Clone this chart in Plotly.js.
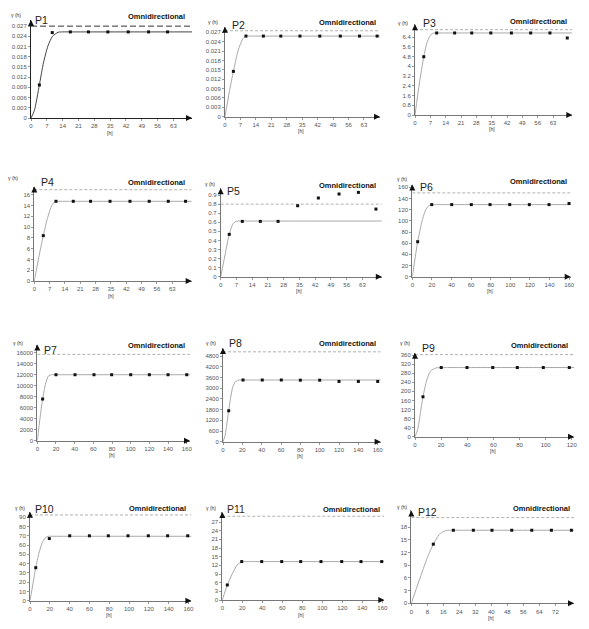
<!DOCTYPE html>
<html>
<head>
<meta charset="utf-8">
<script src="https://cdn.plot.ly/plotly-3.0.1.min.js"></script>
<style>
  html, body { margin: 0; padding: 0; background: #fff; }
  #chart { width: 589px; height: 629px; }
</style>
</head>
<body>
<div id="chart"></div>
<script>
var p1Lags = [3.7, 9.4, 17.4, 25.4, 34, 43, 52, 60.4];
var p1Gamma = [0.0097, 0.0251, 0.0253, 0.0253, 0.0253, 0.0253, 0.0253, 0.0253];
var p1ModelH = [0, 1.5, 3.7, 5.5, 7.5, 9.5, 12, 14, 18, 30, 50, 71.2];
var p1ModelG = [0, 0.0022, 0.0097, 0.0162, 0.0212, 0.0240, 0.0252, 0.0253, 0.0253, 0.0253, 0.0253, 0.0253];
var p1Sill = 0.027;
var p1XTicks = [0, 7, 14, 21, 28, 35, 42, 49, 56, 63];
var p1YTicks = [0, 0.003, 0.006, 0.009, 0.012, 0.015, 0.018, 0.021, 0.024, 0.027];

var p2Lags = [3.8, 9.5, 17.4, 25.3, 34, 43, 52.3, 61, 69];
var p2Gamma = [0.0145, 0.0258, 0.0258, 0.0258, 0.0258, 0.0258, 0.0258, 0.0258, 0.0258];
var p2ModelH = [0, 2, 3.8, 6, 8, 9.5, 11, 15, 30, 50, 70.3];
var p2ModelG = [0, 0.0081, 0.0145, 0.0213, 0.0248, 0.0258, 0.0258, 0.0258, 0.0258, 0.0258, 0.0258];
var p2Sill = 0.0275;
var p2XTicks = [0, 7, 14, 21, 28, 35, 42, 49, 56, 63];
var p2YTicks = [0, 0.003, 0.006, 0.009, 0.012, 0.015, 0.018, 0.021, 0.024, 0.027];

var p3Lags = [4.0, 9.9, 18.1, 25.9, 34.6, 44, 52.8, 61.6, 69.5];
var p3Gamma = [4.78, 6.73, 6.73, 6.73, 6.73, 6.73, 6.73, 6.73, 6.32];
var p3ModelH = [0, 2, 4, 5.5, 7, 8.5, 10, 14, 30, 50, 71.8];
var p3ModelG = [0, 2.6, 4.78, 5.95, 6.55, 6.73, 6.73, 6.73, 6.73, 6.73, 6.73];
var p3Sill = 7.0;
var p3XTicks = [0, 7, 14, 21, 28, 35, 42, 49, 56, 63];
var p3YTicks = [0, 0.8, 1.6, 2.4, 3.2, 4, 4.8, 5.6, 6.4];

var p4Lags = [4.1, 9.9, 17.8, 25.7, 34.6, 43.7, 52.5, 61.2, 69.1];
var p4Gamma = [8.4, 14.76, 14.76, 14.76, 14.76, 14.76, 14.76, 14.76, 14.76];
var p4ModelH = [0, 2, 4.1, 6, 8, 9.7, 11, 15, 30, 50, 71.9];
var p4ModelG = [0, 4.3, 8.4, 11.6, 14.0, 14.76, 14.76, 14.76, 14.76, 14.76, 14.76];
var p4Sill = 16.9;
var p4XTicks = [0, 7, 14, 21, 28, 35, 42, 49, 56, 63];
var p4YTicks = [0, 2, 4, 6, 8, 10, 12, 14, 16];

var p5Lags = [3.8, 9.6, 17.6, 25.5, 34.2, 43.4, 52.6, 61.2, 69];
var p5Gamma = [0.467, 0.61, 0.61, 0.61, 0.783, 0.868, 0.912, 0.93, 0.746];
var p5ModelH = [0, 2, 3.8, 5.3, 6.5, 8, 9.5, 13, 30, 50, 71.6];
var p5ModelG = [0, 0.25, 0.467, 0.575, 0.608, 0.614, 0.614, 0.614, 0.614, 0.614, 0.614];
var p5Sill = 0.8;
var p5XTicks = [0, 7, 14, 21, 28, 35, 42, 49, 56, 63];
var p5YTicks = [0, 0.1, 0.2, 0.3, 0.4, 0.5, 0.6, 0.7, 0.8, 0.9];

var p6Lags = [5.5, 19.8, 40.2, 60.2, 79.3, 99.4, 119.4, 139.5, 159.9];
var p6Gamma = [62.6, 129, 129, 129, 129, 129, 129, 129, 131];
var p6ModelH = [0, 5.5, 10, 14, 18, 21, 26, 40, 80, 120, 161.6];
var p6ModelG = [0, 62.6, 100, 121, 128.5, 129, 129, 129, 129, 129, 129];
var p6Sill = 150;
var p6XTicks = [0, 20, 40, 60, 80, 100, 120, 140, 160];
var p6YTicks = [0, 20, 40, 60, 80, 100, 120, 140, 160];

var p7Lags = [5.7, 20, 40.4, 60.7, 79.6, 100, 120, 140, 160];
var p7Gamma = [7580, 12000, 12000, 12000, 12000, 12000, 12000, 12000, 12000];
var p7ModelH = [0, 3, 5.7, 9, 12, 15, 18, 25, 40, 80, 120, 163.5];
var p7ModelG = [0, 4200, 7580, 10500, 11800, 12000, 12000, 12000, 12000, 12000, 12000, 12000];
var p7Sill = 15700;
var p7XTicks = [0, 20, 40, 60, 80, 100, 120, 140, 160];
var p7YTicks = [0, 2000, 4000, 6000, 8000, 10000, 12000, 14000, 16000];

var p8Lags = [5.9, 20.7, 40.6, 60.3, 80, 100, 120, 140, 160];
var p8Gamma = [1736, 3460, 3460, 3460, 3450, 3450, 3380, 3380, 3380];
var p8ModelH = [0, 2, 4, 5.9, 8, 10, 13, 17, 20, 26, 40, 80, 120, 163];
var p8ModelG = [0, 300, 1000, 1736, 2500, 3050, 3380, 3460, 3460, 3460, 3460, 3460, 3460, 3460];
var p8Sill = 5040;
var p8XTicks = [0, 20, 40, 60, 80, 100, 120, 140, 160];
var p8YTicks = [0, 600, 1200, 1800, 2400, 3000, 3600, 4200, 4800];

var p9Lags = [6.1, 20.1, 39.8, 59.5, 78.3, 98.2, 118.1];
var p9Gamma = [176, 305, 305, 305, 305, 305, 305];
var p9ModelH = [0, 2, 4, 6.1, 9, 12, 16, 20, 24, 35, 60, 90, 121.7];
var p9ModelG = [0, 30, 100, 176, 250, 290, 303, 305, 305, 305, 305, 305, 305];
var p9Sill = 362;
var p9XTicks = [0, 20, 40, 60, 80, 100, 120];
var p9YTicks = [0, 40, 80, 120, 160, 200, 240, 280, 320, 360];

var p10Lags = [5.8, 19.5, 40.1, 60, 79.1, 99, 119.5, 139, 159.3];
var p10Gamma = [35.6, 67, 70, 70, 70, 70, 70, 70, 70];
var p10ModelH = [0, 3, 5.8, 9, 12, 15, 18, 21, 28, 40, 80, 120, 163];
var p10ModelG = [0, 18.5, 35.6, 51, 61.5, 67.5, 69.5, 69.5, 69.5, 69.5, 69.5, 69.5, 69.5];
var p10Sill = 92.5;
var p10XTicks = [0, 20, 40, 60, 80, 100, 120, 140, 160];
var p10YTicks = [0, 10, 20, 30, 40, 50, 60, 70, 80, 90];

var p11Lags = [5, 19.4, 39.4, 59.4, 78.4, 98.7, 119.4, 138.7, 159.4];
var p11Gamma = [5.2, 13.3, 13.3, 13.3, 13.3, 13.3, 13.3, 13.3, 13.3];
var p11ModelH = [0, 5, 10, 15, 20, 23, 30, 45, 80, 120, 162];
var p11ModelG = [0, 5.2, 9.1, 12.2, 13.3, 13.3, 13.3, 13.3, 13.3, 13.3, 13.3];
var p11Sill = 29;
var p11XTicks = [0, 20, 40, 60, 80, 100, 120, 140, 160];
var p11YTicks = [0, 3, 6, 9, 12, 15, 18, 21, 24, 27];

var p12Lags = [11, 21, 31, 40.3, 50.2, 60.2, 70, 80];
var p12Gamma = [14, 17.3, 17.3, 17.3, 17.3, 17.3, 17.3, 17.3];
var p12ModelH = [0, 4, 8, 11, 14, 17, 19, 21, 26, 40, 60, 81.3];
var p12ModelG = [0, 5.5, 10.8, 14, 16.3, 17.2, 17.3, 17.3, 17.3, 17.3, 17.3, 17.3];
var p12Sill = 20.3;
var p12XTicks = [0, 8, 16, 24, 32, 40, 48, 56, 64, 72];
var p12YTicks = [0, 3, 6, 9, 12, 15, 18];

var panelNames = ['P1', 'P2', 'P3', 'P4', 'P5', 'P6', 'P7', 'P8', 'P9', 'P10', 'P11', 'P12'];

var W = 589, H = 629;
function px(x) { return x / W; }
function py(y) { return 1 - y / H; }

var panels = [
  {lags: p1Lags, gamma: p1Gamma, mh: p1ModelH, mg: p1ModelG, sill: p1Sill, xt: p1XTicks, yt: p1YTicks, xmax: 71.2, ymax: 0.0288},
  {lags: p2Lags, gamma: p2Gamma, mh: p2ModelH, mg: p2ModelG, sill: p2Sill, xt: p2XTicks, yt: p2YTicks, xmax: 70.3, ymax: 0.0288},
  {lags: p3Lags, gamma: p3Gamma, mh: p3ModelH, mg: p3ModelG, sill: p3Sill, xt: p3XTicks, yt: p3YTicks, xmax: 71.8, ymax: 7.45},
  {lags: p4Lags, gamma: p4Gamma, mh: p4ModelH, mg: p4ModelG, sill: p4Sill, xt: p4XTicks, yt: p4YTicks, xmax: 71.9, ymax: 17.5},
  {lags: p5Lags, gamma: p5Gamma, mh: p5ModelH, mg: p5ModelG, sill: p5Sill, xt: p5XTicks, yt: p5YTicks, xmax: 71.6, ymax: 0.975},
  {lags: p6Lags, gamma: p6Gamma, mh: p6ModelH, mg: p6ModelG, sill: p6Sill, xt: p6XTicks, yt: p6YTicks, xmax: 161.6, ymax: 165},
  {lags: p7Lags, gamma: p7Gamma, mh: p7ModelH, mg: p7ModelG, sill: p7Sill, xt: p7XTicks, yt: p7YTicks, xmax: 163.5, ymax: 17500},
  {lags: p8Lags, gamma: p8Gamma, mh: p8ModelH, mg: p8ModelG, sill: p8Sill, xt: p8XTicks, yt: p8YTicks, xmax: 163, ymax: 5250},
  {lags: p9Lags, gamma: p9Gamma, mh: p9ModelH, mg: p9ModelG, sill: p9Sill, xt: p9XTicks, yt: p9YTicks, xmax: 121.7, ymax: 370},
  {lags: p10Lags, gamma: p10Gamma, mh: p10ModelH, mg: p10ModelG, sill: p10Sill, xt: p10XTicks, yt: p10YTicks, xmax: 163, ymax: 96},
  {lags: p11Lags, gamma: p11Gamma, mh: p11ModelH, mg: p11ModelG, sill: p11Sill, xt: p11XTicks, yt: p11YTicks, xmax: 162, ymax: 30.5},
  {lags: p12Lags, gamma: p12Gamma, mh: p12ModelH, mg: p12ModelG, sill: p12Sill, xt: p12XTicks, yt: p12YTicks, xmax: 81.3, ymax: 22}
];

// plot area of each panel in pixels: left, right, top, bottom
var boxes = [
  [31, 192, 20, 118], [225, 380, 26.7, 116.7], [415, 572.3, 24.2, 115],
  [34.3, 191.7, 186.5, 281], [220.7, 381.8, 188.3, 276.7], [412.3, 570.7, 184.5, 276.7],
  [37.3, 190, 344.5, 440.7], [223, 380.6, 348.1, 441.7], [415, 574, 352.8, 436.7],
  [30, 191.4, 511.7, 600.7], [222.3, 384.3, 511.9, 600], [411.3, 574, 510.4, 603.3]
];
// "Omnidirectional" right edge / middle
var titlePos = [[187, 16], [377.7, 23], [569, 21.7], [186.7, 182.7], [377.7, 185.7], [569, 181],
  [186.7, 345.7], [378.3, 343.3], [569.7, 345.7], [187.7, 508.3], [381.7, 509], [571.7, 508.3]];
// panel name left edge / middle
var namePos = [[33, 19.5], [230, 25], [420.7, 23.3], [39.3, 181.7], [225, 191], [418.3, 186.7],
  [41.7, 350], [227.3, 343.3], [419.7, 347.7], [33.3, 509.3], [225, 509], [415.7, 511.7]];
// gamma label right edge / middle
var gammaPos = [[23, 15], [220, 21.7], [410, 23], [20, 178], [217, 184], [409, 179],
  [25, 342.7], [218, 342.7], [412, 343.3], [27, 507.7], [218, 507.7], [409, 506.7]];

var FONT = 'Liberation Sans, Arial, sans-serif';
var traces = [];
var layout = {
  width: W, height: H,
  margin: {l: 0, r: 0, t: 0, b: 0},
  paper_bgcolor: '#fff', plot_bgcolor: '#fff',
  showlegend: false,
  annotations: []
};

panels.forEach(function (p, i) {
  var s = i === 0 ? '' : String(i + 1);
  var b = boxes[i];
  var dark = i === 0;

  traces.push({
    x: [0, p.xmax], y: [p.sill, p.sill], xaxis: 'x' + s, yaxis: 'y' + s,
    mode: 'lines', hoverinfo: 'skip',
    line: {color: dark ? '#333' : '#b0b0b0', width: 1, dash: dark ? '6px,3px' : '3px,2px'}
  });
  traces.push({
    x: p.mh, y: p.mg, xaxis: 'x' + s, yaxis: 'y' + s,
    mode: 'lines', hoverinfo: 'skip',
    line: {color: dark ? '#444' : '#a8a8a8', width: 1, shape: 'spline', smoothing: 0.6}
  });
  traces.push({
    x: p.lags, y: p.gamma, xaxis: 'x' + s, yaxis: 'y' + s,
    mode: 'markers', cliponaxis: false,
    marker: {symbol: 'square', size: 3, color: '#111'}
  });

  var axisCommon = {
    showgrid: false, zeroline: false, showline: true,
    linecolor: dark ? '#222' : '#777', linewidth: 1,
    ticks: 'outside', ticklen: 2, tickcolor: '#999', tickwidth: 1,
    tickfont: {family: FONT, size: 6, color: '#555'},
    fixedrange: true
  };
  layout['xaxis' + s] = Object.assign({}, axisCommon, {
    domain: [px(b[0]), px(b[1])], range: [0, p.xmax], anchor: 'y' + s,
    tickmode: 'array', tickvals: p.xt, ticktext: p.xt.map(String)
  });
  layout['yaxis' + s] = Object.assign({}, axisCommon, {
    domain: [py(b[3]), py(b[2])], range: [0, p.ymax], anchor: 'x' + s,
    tickmode: 'array', tickvals: p.yt, ticktext: p.yt.map(String)
  });

  var ann = layout.annotations;
  // axis arrows
  ann.push({x: p.xmax, y: 0, xref: 'x' + s, yref: 'y' + s, ax: -7, ay: 0, text: '',
    showarrow: true, arrowhead: 2, arrowsize: 1, arrowwidth: 1.2, arrowcolor: '#111'});
  ann.push({x: 0, y: p.ymax, xref: 'x' + s, yref: 'y' + s, ax: 0, ay: 7, text: '',
    showarrow: true, arrowhead: 2, arrowsize: 1, arrowwidth: 1.2, arrowcolor: '#111'});

  ann.push({x: px(titlePos[i][0]), y: py(titlePos[i][1]), xref: 'paper', yref: 'paper',
    xanchor: 'right', yanchor: 'middle', showarrow: false,
    text: '<b>Omnidirectional</b>', font: {family: FONT, size: 7.5, color: '#111'}});
  ann.push({x: px(namePos[i][0]), y: py(namePos[i][1]), xref: 'paper', yref: 'paper',
    xanchor: 'left', yanchor: 'middle', showarrow: false,
    text: panelNames[i], font: {family: FONT, size: 10.5, color: i === 10 ? '#3a2a10' : '#222'}});
  ann.push({x: px(gammaPos[i][0]), y: py(gammaPos[i][1]), xref: 'paper', yref: 'paper',
    xanchor: 'right', yanchor: 'middle', showarrow: false,
    text: 'γ (h)', font: {family: FONT, size: 5, color: '#333'}});
  ann.push({x: px((b[0] + b[1]) / 2 - 2), y: py(b[3] + 14.5), xref: 'paper', yref: 'paper',
    xanchor: 'center', yanchor: 'middle', showarrow: false,
    text: '[h]', font: {family: FONT, size: 5, color: '#333'}});
});

Plotly.newPlot(document.getElementById('chart'), traces, layout, {displayModeBar: false, staticPlot: true});
</script>
</body>
</html>
